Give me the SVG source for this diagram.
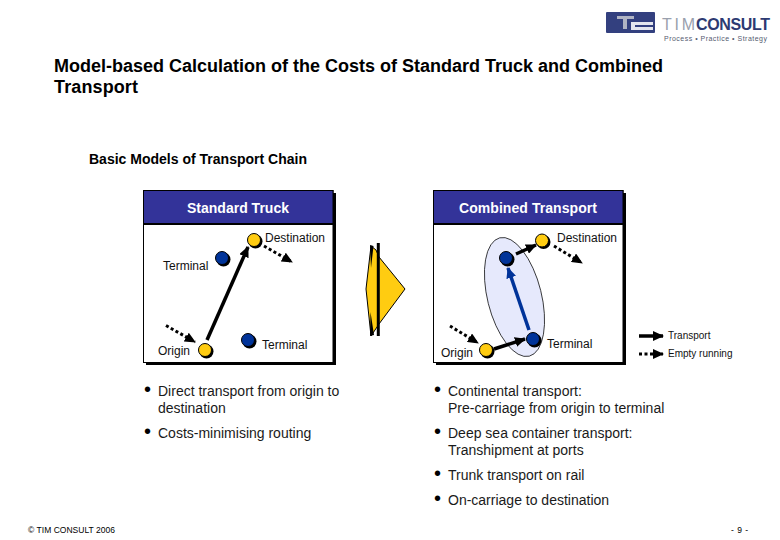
<svg xmlns="http://www.w3.org/2000/svg" width="780" height="540" viewBox="0 0 780 540">
<style>
text{font-family:"Liberation Sans",Arial,sans-serif;fill:#000}
.t{font-size:18px;font-weight:bold}
.sub{font-size:14px;font-weight:bold}
.hd{font-size:14px;font-weight:bold;fill:#fff;text-anchor:middle}
.l{font-size:12px;fill:#111}
.b{font-size:14px;fill:#1a1a1a}
.bu{font-size:20px;fill:#000}
.s{font-size:10px;fill:#111}
.f{font-size:8.500px}
.panel{fill:#fff;stroke:#000;stroke-width:1}
.shadow{fill:#000}
.head{fill:#333399;stroke:#000;stroke-width:1}
.y{fill:#ffcc11;stroke:#000;stroke-width:1}
.n{fill:#003399;stroke:#000;stroke-width:1}
.sd{fill:#000}
.solid{stroke:#000;stroke-width:3.5;fill:none;marker-end:url(#ah)}
.blue{stroke:#003399;stroke-width:3.5;fill:none;marker-end:url(#ab)}
.dash{stroke:#000;stroke-width:3;stroke-dasharray:3 2.500;fill:none;marker-end:url(#ah)}
</style>
<defs>
<marker id="ah" markerUnits="userSpaceOnUse" markerWidth="12" markerHeight="10" refX="10" refY="5" orient="auto"><path d="M0 0L11 5L0 10Z" fill="#000"/></marker>
<marker id="ab" markerUnits="userSpaceOnUse" markerWidth="12" markerHeight="10" refX="10" refY="5" orient="auto"><path d="M0 0L11 5L0 10Z" fill="#003399"/></marker>
</defs>
<rect width="780" height="540" fill="#fff"/>
<g id="logo">
<rect x="606" y="12" width="49" height="21" rx="1" fill="#33407f"/>
<path d="M617 16H634V19H627V29H623V19H617Z" fill="#b0b4c4"/>
<path d="M631 22H653V25H635V27H653V30H631Z" fill="#e4e6ee"/>
<text x="662" y="30" style="font-size:16px;fill:#9aa0ad" textLength="33">TIM</text>
<text x="696" y="30" style="font-size:16px;fill:#2d3a72;font-weight:bold" textLength="74">CONSULT</text>
<text x="664" y="41" style="font-size:7px;fill:#555b70" textLength="103">Process • Practice • Strategy</text>
</g>
<text class="t" x="54" y="72" textLength="609">Model-based Calculation of the Costs of Standard Truck and Combined</text>
<text class="t" x="54" y="93" textLength="84">Transport</text>
<text class="sub" x="89" y="164" textLength="218">Basic Models of Transport Chain</text>
<g id="standard-truck">
<rect class="shadow" x="146" y="193" width="190" height="172"/>
<rect class="panel" x="143.500" y="190.500" width="189.500" height="172"/>
<rect class="head" x="143.500" y="190.500" width="189.500" height="33"/>
<rect class="sd" x="143.500" y="223" width="189.500" height="2"/>
<text class="hd" x="238" y="213" textLength="102">Standard Truck</text>
</g>
<g id="combined-transport">
<rect class="shadow" x="436" y="193" width="190" height="172"/>
<rect class="panel" x="433.500" y="190.500" width="189.500" height="172"/>
<rect class="head" x="433.500" y="190.500" width="189.500" height="33"/>
<rect class="sd" x="433.500" y="223" width="189.500" height="2"/>
<text class="hd" x="528" y="213" textLength="138">Combined Transport</text>
</g>
<g id="terminal-area"><ellipse cx="514.500" cy="297" rx="27" ry="61" transform="rotate(-14 514.500 297)" fill="#e6e9fc" stroke="#000" stroke-width=".7"/></g>
<g id="connectors">
<path class="solid" d="M207 340L248 247"/>
<path class="dash" d="M166 325.500L195 342"/>
<path class="dash" d="M264 246L292 262"/>
<path class="blue" d="M529 330L508 268"/>
<path class="solid" d="M516 254L536 245"/>
<path class="solid" d="M494 349L525 339"/>
<path class="dash" d="M450 326L478 343"/>
<path class="dash" d="M554 246L582 263"/>
<path class="solid" d="M639 336H663"/>
<path class="dash" d="M639 354H663"/>
</g>
<g id="arrow-shape">
<path d="M371 246L376 250L379 257L405 289L379 324L375 330L371 336L366 289Z" fill="#ffcc11" stroke="#000" stroke-width="1"/>
<path d="M370 245L373.500 246L371 268L370 245ZM370 336L370.500 312L374 335Z" fill="#000"/>
<path d="M378.300 243V336" stroke="#000" stroke-width="3"/>
</g>
<g id="n1"><circle class="sd" cx="223.500" cy="259.500" r="7"/><circle class="n" cx="222" cy="258" r="6.500"/><text class="l" x="163" y="270">Terminal</text></g>
<g id="n2"><circle class="sd" cx="255.500" cy="241.500" r="7"/><circle class="y" cx="254" cy="240" r="6.500"/><text class="l" x="265" y="242">Destination</text></g>
<g id="n3"><circle class="sd" cx="206.500" cy="351.500" r="7"/><circle class="y" cx="205" cy="350" r="6.500"/><text class="l" x="158" y="355">Origin</text></g>
<g id="n4"><circle class="sd" cx="249.500" cy="341.500" r="7"/><circle class="n" cx="248" cy="340" r="6.500"/><text class="l" x="262" y="349">Terminal</text></g>
<g id="n5"><circle class="sd" cx="507.500" cy="259.500" r="7"/><circle class="n" cx="506" cy="258" r="6.500"/></g>
<g id="n6"><circle class="sd" cx="543.500" cy="242" r="7"/><circle class="y" cx="542" cy="240.500" r="6.500"/><text class="l" x="557" y="242">Destination</text></g>
<g id="n7"><circle class="sd" cx="487.500" cy="351.500" r="7"/><circle class="y" cx="486" cy="350" r="6.500"/><text class="l" x="441" y="357">Origin</text></g>
<g id="n8"><circle class="sd" cx="534.500" cy="340.500" r="7"/><circle class="n" cx="533" cy="339" r="6.500"/><text class="l" x="547" y="348">Terminal</text></g>
<text class="s" x="668" y="339">Transport</text>
<text class="s" x="668" y="357">Empty running</text>
<g id="bullets-left">
<text class="bu" x="144" y="396">•</text>
<text class="b" x="158" y="396">Direct transport from origin to</text>
<text class="b" x="158" y="413">destination</text>
<text class="bu" x="144" y="438">•</text>
<text class="b" x="158" y="438">Costs-minimising routing</text>
</g>
<g id="bullets-right">
<text class="bu" x="434" y="396">•</text>
<text class="b" x="448" y="396">Continental transport:</text>
<text class="b" x="448" y="413">Pre-carriage from origin to terminal</text>
<text class="bu" x="434" y="438">•</text>
<text class="b" x="448" y="438">Deep sea container transport:</text>
<text class="b" x="448" y="455">Transhipment at ports</text>
<text class="bu" x="434" y="480">•</text>
<text class="b" x="448" y="480">Trunk transport on rail</text>
<text class="bu" x="434" y="505">•</text>
<text class="b" x="448" y="505">On-carriage to destination</text>
</g>
<text class="f" x="28" y="533" textLength="87">© TIM CONSULT 2006</text>
<text class="f" x="731" y="533" textLength="17">- 9 -</text>
</svg>
